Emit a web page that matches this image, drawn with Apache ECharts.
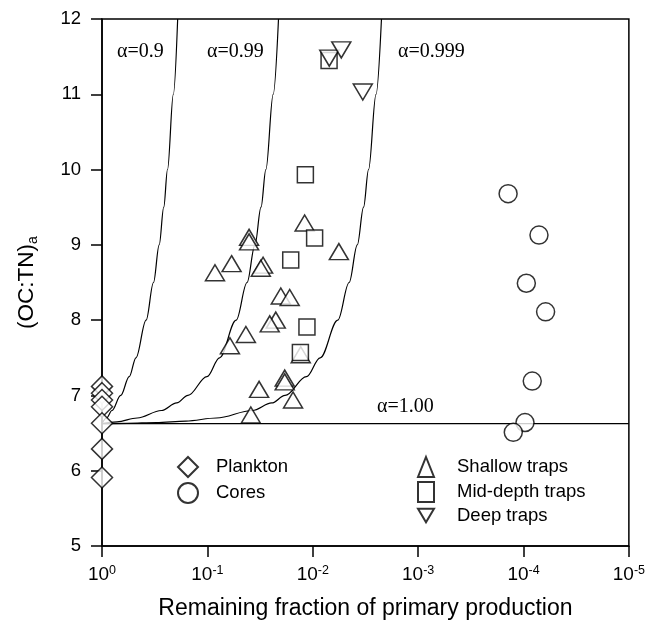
<!DOCTYPE html>
<html>
<head>
<meta charset="utf-8">
<script src="https://cdn.jsdelivr.net/npm/echarts@6/dist/echarts.min.js"></script>
<style>
  html, body { margin: 0; padding: 0; background: #fff; }
  #chart { width: 648px; height: 625px; }
</style>
</head>
<body>
<div id="chart"></div>
<script>
// Remaining fraction of primary production (x) vs (OC:TN)a (y)

// Reference (Redfield) ratio
const baseRatio = 6.625;

// Model curves, [remaining fraction, ratio]
const curveA090 = [
  [1, 6.625], [0.9045, 6.7], [0.8047, 6.8], [0.6643, 7.0], [0.5515, 7.25],
  [0.4761, 7.5], [0.3815, 8.0], [0.3246, 8.5], [0.2866, 9.0], [0.2594, 9.5],
  [0.2390, 10.0], [0.2104, 11.0], [0.1914, 12.0]
];
const curveA099 = [
  [1, 6.625], [0.7203, 6.65], [0.4636, 6.7], [0.2732, 6.8], [0.1953, 6.9],
  [0.1529, 7.0], [0.1009, 7.25], [0.07656, 7.5], [0.05328, 8.0], [0.04201, 8.5],
  [0.03536, 9.0], [0.03097, 9.5], [0.02786, 10.0], [0.02374, 11.0], [0.02114, 12.0]
];
const curveA0999 = [
  [1, 6.625], [0.572, 6.63], [0.3069, 6.64], [0.1600, 6.66], [0.08207, 6.7],
  [0.03742, 6.8], [0.02449, 6.9], [0.01833, 7.0], [0.01147, 7.25], [0.008502, 7.5],
  [0.005787, 8.0], [0.004515, 8.5], [0.003777, 9.0], [0.003295, 9.5],
  [0.002955, 10.0], [0.002509, 11.0], [0.002228, 12.0]
];
const curveA100 = [[1, baseRatio], [1e-5, baseRatio]];

// Observations, [remaining fraction, (OC:TN)a]
const plankton = [
  [1, 7.12], [1, 7.03], [1, 6.94], [1, 6.85], [1, 6.63], [1, 6.29], [1, 5.91]
];
const cores = [
  [1.40e-4, 9.68], [7.13e-5, 9.13], [9.40e-5, 8.49], [6.17e-5, 8.11],
  [8.26e-5, 7.19], [9.68e-5, 6.64], [1.25e-4, 6.51]
];
const shallowTraps = [
  [0.01194, 9.29], [0.0402, 9.10], [0.0402, 9.04], [0.0589, 8.75], [0.0847, 8.63],
  [0.0296, 8.73], [0.0311, 8.69], [0.00565, 8.91], [0.0201, 8.32], [0.01655, 8.30],
  [0.02244, 8.00], [0.0256, 7.95], [0.0431, 7.81], [0.0611, 7.66], [0.01845, 7.23],
  [0.01845, 7.18], [0.0323, 7.08], [0.01538, 6.94], [0.0387, 6.74], [0.0130, 7.54]
];
const midDepthTraps = [
  [0.0070, 11.45], [0.01175, 9.93], [0.0096, 9.09], [0.01618, 8.80],
  [0.01135, 7.91], [0.01310, 7.57]
];
const deepTraps = [
  [0.00697, 11.48], [0.00536, 11.59], [0.00335, 11.03]
];

// Axis settings
const yTicks = { min: 5, max: 12, interval: 1 };
const xRange = { min: 1e-5, max: 1 };

const SANS = '"Liberation Sans", Arial, sans-serif';
const SERIF = '"Liberation Serif", "Times New Roman", serif';

const markerStyle = { color: '#fff', borderColor: '#000', borderWidth: 1.5 };
const curveStyle = { color: '#000', width: 1.2 };

function curve(name, data) {
  return {
    name: name, type: 'line', data: data, showSymbol: false, symbol: 'none',
    smooth: 0.35, smoothMonotone: 'x', lineStyle: curveStyle, z: 1,
    silent: true, clip: true
  };
}

const downTriangle = 'path://M0,0 L20,0 L10,17 Z';

const chart = echarts.init(document.getElementById('chart'), null, { renderer: 'canvas' });

chart.setOption({
  animation: false,
  backgroundColor: '#fff',
  grid: {
    left: 102, right: 18, top: 19, bottom: 79,
    show: true, borderColor: '#000', borderWidth: 1.5, backgroundColor: 'transparent'
  },
  xAxis: {
    type: 'log', logBase: 10, min: xRange.min, max: xRange.max, inverse: true,
    splitNumber: 5,
    name: 'Remaining fraction of primary production',
    nameLocation: 'middle', nameGap: 51,
    nameTextStyle: { fontFamily: SANS, fontSize: 23, color: '#000' },
    axisLine: { lineStyle: { color: '#000', width: 1.5 } },
    axisTick: { inside: false, length: 11, lineStyle: { color: '#000', width: 1.5 } },
    minorTick: { show: false },
    splitLine: { show: false },
    axisLabel: {
      margin: 18,
      formatter: function (v) {
        const e = Math.round(Math.log10(v));
        return '{b|10}{s|' + e + '}';
      },
      rich: {
        b: { fontFamily: SANS, fontSize: 19, color: '#000', lineHeight: 22 },
        s: { fontFamily: SANS, fontSize: 12.5, color: '#000', verticalAlign: 'top', lineHeight: 14 }
      }
    }
  },
  yAxis: {
    type: 'value', min: yTicks.min, max: yTicks.max, interval: yTicks.interval,
    name: '{m|(OC:TN)}{s|a}',
    nameLocation: 'middle', nameGap: 62, nameRotate: 90,
    nameTextStyle: {
      rich: {
        m: { fontFamily: SANS, fontSize: 22.5, color: '#000', lineHeight: 26 },
        s: { fontFamily: SANS, fontSize: 14, color: '#000', verticalAlign: 'bottom', lineHeight: 20 }
      }
    },
    axisLine: { show: true, lineStyle: { color: '#000', width: 1.5 } },
    axisTick: { show: true, inside: false, length: 11, lineStyle: { color: '#000', width: 1.5 } },
    splitLine: { show: false },
    axisLabel: { margin: 21, fontFamily: SANS, fontSize: 18.5, color: '#000' }
  },
  legend: [
    {
      data: ['Plankton', 'Cores'], orient: 'vertical', left: 177, top: 456,
      padding: 0, itemGap: 4, itemWidth: 20, itemHeight: 20,
      textStyle: { fontFamily: SANS, fontSize: 18.5, color: '#000', padding: [0, 0, 0, 13] },
      selectedMode: false
    },
    {
      data: ['Shallow traps', 'Mid-depth traps', 'Deep traps'], orient: 'vertical',
      left: 417, top: 456, padding: 0, itemGap: 3, itemWidth: 16, itemHeight: 20,
      textStyle: { fontFamily: SANS, fontSize: 18.5, color: '#000', padding: [0, 0, 0, 18] },
      selectedMode: false
    }
  ],
  graphic: [
    { type: 'text', left: 117, top: 42, style: { text: 'α=0.9', font: '20px ' + SERIF, fill: '#000' } },
    { type: 'text', left: 207, top: 42, style: { text: 'α=0.99', font: '20px ' + SERIF, fill: '#000' } },
    { type: 'text', left: 398, top: 42, style: { text: 'α=0.999', font: '20px ' + SERIF, fill: '#000' } },
    { type: 'text', left: 377, top: 397, style: { text: 'α=1.00', font: '20px ' + SERIF, fill: '#000' } }
  ],
  series: [
    curve('α=0.9', curveA090),
    curve('α=0.99', curveA099),
    curve('α=0.999', curveA0999),
    {
      name: 'α=1.00', type: 'line', data: curveA100, showSymbol: false, symbol: 'none',
      lineStyle: curveStyle, z: 1, silent: true
    },
    {
      name: 'Plankton', type: 'scatter', data: plankton, symbol: 'diamond',
      symbolSize: 21, itemStyle: markerStyle, z: 3, clip: false
    },
    {
      name: 'Cores', type: 'scatter', data: cores, symbol: 'circle',
      symbolSize: 18, itemStyle: markerStyle, z: 3
    },
    {
      name: 'Shallow traps', type: 'scatter', data: shallowTraps, symbol: 'triangle',
      symbolSize: [19, 16], itemStyle: markerStyle, z: 3
    },
    {
      name: 'Mid-depth traps', type: 'scatter', data: midDepthTraps, symbol: 'rect',
      symbolSize: 16, itemStyle: markerStyle, z: 3
    },
    {
      name: 'Deep traps', type: 'scatter', data: deepTraps, symbol: downTriangle,
      symbolSize: [19, 16], itemStyle: markerStyle, z: 3
    }
  ]
});
</script>
</body>
</html>
